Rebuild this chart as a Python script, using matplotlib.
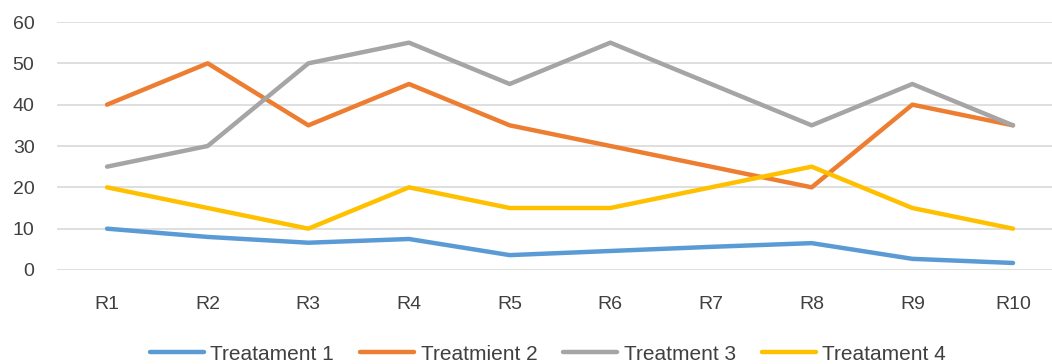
import matplotlib.pyplot as plt
import numpy as np

plt.rcParams['font.family'] = ['Liberation Sans', 'DejaVu Sans']

labels = ['R1', 'R2', 'R3', 'R4', 'R5', 'R6', 'R7', 'R8', 'R9', 'R10']
t1 = [10, 8, 6.6, 7.5, 3.6, 4.6, 5.6, 6.5, 2.7, 1.7]
t2 = [40, 50, 35, 45, 35, 30, 25, 20, 40, 35]
t3 = [25, 30, 50, 55, 45, 55, 45, 35, 45, 35]
t4 = [20, 15, 10, 20, 15, 15, 20, 25, 15, 10]
names = ['Treatament 1', 'Treatmient 2', 'Treatment 3', 'Treatament 4']
colors = ['#5B9BD5', '#ED7D31', '#A5A5A5', '#FFC000']

fig = plt.figure(figsize=(10.52, 3.64), dpi=100)
# plot area runs off the right edge, like the original
ax = fig.add_axes([56.7/1052, 1 - 270/364, (1052 - 56.7)/1052, 248/364])

x = np.arange(1, len(labels) + 1)
for ys, name, c in zip([t1, t2, t3, t4], names, colors):
	ax.plot(x, ys, color=c, lw=3.2, label=name, solid_capstyle='round', solid_joinstyle='round')

ax.set_xlim(0.5, 10 + (1052 - 1013)/100.7)
ax.set_ylim(0, 60)
ax.set_yticks(range(0, 61, 10))
ax.set_xticks(x)
ax.set_xticklabels(labels)
ax.grid(axis='y', color='#D9D9D9', lw=1.2)
ax.set_axisbelow(True)
for s in ax.spines.values():
	s.set_visible(False)
ax.tick_params(length=0, labelsize=14, colors='#404040')
ax.tick_params(axis='x', pad=19)
ax.tick_params(axis='y', pad=16)

fig.legend(loc='center', bbox_to_anchor=(548/1052, 1 - 354/364), ncol=4, frameon=False,
	fontsize=15, handlelength=2.6, columnspacing=1.25, handletextpad=0.3, labelcolor='#404040')

fig.savefig('out.png', dpi=100)
